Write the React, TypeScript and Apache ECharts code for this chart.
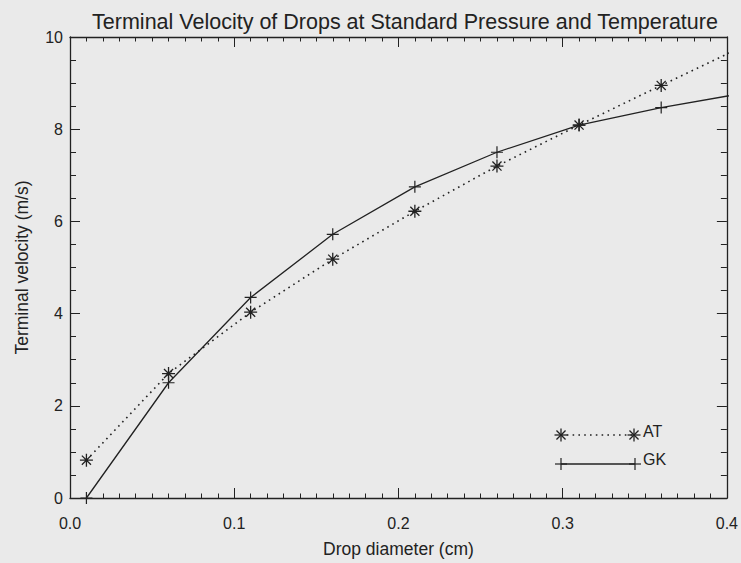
import React, { useEffect, useRef } from "react";
import * as echarts from "echarts";

const diameters = [0.01, 0.06, 0.11, 0.16, 0.21, 0.26, 0.31, 0.36, 0.41];
const atValues = [0.82, 2.7, 4.03, 5.18, 6.22, 7.2, 8.09, 8.95, 9.8];
const gkValues = [0.0, 2.5, 4.35, 5.72, 6.75, 7.5, 8.09, 8.47, 8.78];
const xTicks = [0.0, 0.1, 0.2, 0.3, 0.4];
const yTicks = [0, 2, 4, 6, 8, 10];

const INK = "#222222";
const FONT = "Liberation Sans, Arial, Helvetica, sans-serif";
const ASTERISK = "path://M10,0 L10,20 M0,10 L20,10 M3,3 L17,17 M3,17 L17,3";
const PLUS = "path://M10,0 L10,20 M0,10 L20,10";

function asteriskGraphic(cx: number, cy: number, r: number) {
  const d = r * 0.7;
  const ls = { stroke: INK, lineWidth: 1.3 };
  return {
    type: "group",
    x: cx,
    y: cy,
    children: [
      { type: "line", shape: { x1: -r, y1: 0, x2: r, y2: 0 }, style: ls },
      { type: "line", shape: { x1: 0, y1: -r, x2: 0, y2: r }, style: ls },
      { type: "line", shape: { x1: -d, y1: -d, x2: d, y2: d }, style: ls },
      { type: "line", shape: { x1: -d, y1: d, x2: d, y2: -d }, style: ls },
    ],
  };
}

function plusGraphic(cx: number, cy: number, r: number) {
  const ls = { stroke: INK, lineWidth: 1.2 };
  return {
    type: "group",
    x: cx,
    y: cy,
    children: [
      { type: "line", shape: { x1: -r, y1: 0, x2: r, y2: 0 }, style: ls },
      { type: "line", shape: { x1: 0, y1: -r, x2: 0, y2: r }, style: ls },
    ],
  };
}

export default function App() {
  const ref = useRef<HTMLDivElement>(null);
  useEffect(() => {
    if (!ref.current) return;
    const chart = echarts.init(ref.current, undefined, { renderer: "svg" });
    const axisCommon = {
      type: "value",
      axisLine: { show: true, onZero: false, lineStyle: { color: INK, width: 1.3 } },
      axisTick: { show: true, inside: true, length: 10, lineStyle: { color: INK, width: 1 } },
      splitLine: { show: false },
    };
    const xMin = xTicks[0];
    const xMax = xTicks[xTicks.length - 1];
    const yMin = yTicks[0];
    const yMax = yTicks[yTicks.length - 1];
    const xMinor = { show: true, splitNumber: 10, length: 4.5, lineStyle: { color: INK, width: 1 } };
    const yMinor = { show: true, splitNumber: 4, length: 6, lineStyle: { color: INK, width: 1 } };
    chart.setOption({
      animation: false,
      backgroundColor: "#eaeaea",
      title: {
        text: "Terminal Velocity of Drops at Standard Pressure and Temperature",
        left: 400,
        textAlign: "center",
        top: 6,
        textStyle: { fontFamily: FONT, fontSize: 21.5, fontWeight: "normal", color: INK },
      },
      grid: { left: 70, right: 13, top: 37, bottom: 61 },
      xAxis: [
        {
          ...axisCommon,
          position: "bottom",
          min: xMin,
          max: xMax,
          interval: 0.1,
          minorTick: xMinor,
          axisLabel: {
            show: true,
            margin: 17,
            color: INK,
            fontFamily: FONT,
            fontSize: 16,
            formatter: (v: number) => v.toFixed(1),
          },
          name: "Drop diameter (cm)",
          nameLocation: "middle",
          nameGap: 42,
          nameTextStyle: { fontFamily: FONT, fontSize: 17.5, color: INK },
        },
        {
          ...axisCommon,
          position: "top",
          min: xMin,
          max: xMax,
          interval: 0.1,
          minorTick: xMinor,
          axisLabel: { show: false },
        },
      ],
      yAxis: [
        {
          ...axisCommon,
          position: "left",
          min: yMin,
          max: yMax,
          interval: 2,
          minorTick: yMinor,
          axisLabel: { show: true, margin: 7, color: INK, fontFamily: FONT, fontSize: 16 },
          name: "Terminal velocity (m/s)",
          nameLocation: "middle",
          nameGap: 39,
          nameTextStyle: { fontFamily: FONT, fontSize: 17.5, color: INK },
        },
        {
          ...axisCommon,
          position: "right",
          min: yMin,
          max: yMax,
          interval: 2,
          minorTick: yMinor,
          axisLabel: { show: false },
        },
      ],
      series: [
        {
          name: "AT",
          type: "line",
          xAxisIndex: 0,
          yAxisIndex: 0,
          data: diameters.map((d, i) => [d, atValues[i]]),
          symbol: ASTERISK,
          symbolSize: 13,
          showSymbol: true,
          clip: true,
          lineStyle: { color: INK, width: 1.6, type: [1.6, 4.2] },
          itemStyle: { color: "transparent", borderColor: INK, borderWidth: 1.3 },
        },
        {
          name: "GK",
          type: "line",
          xAxisIndex: 0,
          yAxisIndex: 0,
          data: diameters.map((d, i) => [d, gkValues[i]]),
          symbol: PLUS,
          symbolSize: 12,
          showSymbol: true,
          clip: true,
          lineStyle: { color: INK, width: 1.3, type: "solid" },
          itemStyle: { color: "transparent", borderColor: INK, borderWidth: 1.2 },
        },
      ],
      graphic: [
        {
          type: "line",
          shape: { x1: 561, y1: 435, x2: 634, y2: 435 },
          style: { stroke: INK, lineWidth: 1.6, lineDash: [1.6, 4.2] },
        },
        asteriskGraphic(561, 435, 6.5),
        asteriskGraphic(634, 435, 6.5),
        {
          type: "text",
          x: 643,
          y: 431,
          style: { text: "AT", fontFamily: FONT, fontSize: 16, fill: INK, verticalAlign: "middle" },
        },
        {
          type: "line",
          shape: { x1: 561, y1: 464, x2: 635, y2: 464 },
          style: { stroke: INK, lineWidth: 1.3 },
        },
        plusGraphic(561, 464, 6),
        plusGraphic(635, 464, 6),
        {
          type: "text",
          x: 643,
          y: 459,
          style: { text: "GK", fontFamily: FONT, fontSize: 16, fill: INK, verticalAlign: "middle" },
        },
      ],
    });
    return () => chart.dispose();
  }, []);
  return (
    <div
      ref={ref}
      style={{ position: "absolute", left: 0, top: 0, width: 741, height: 563 }}
    />
  );
}
